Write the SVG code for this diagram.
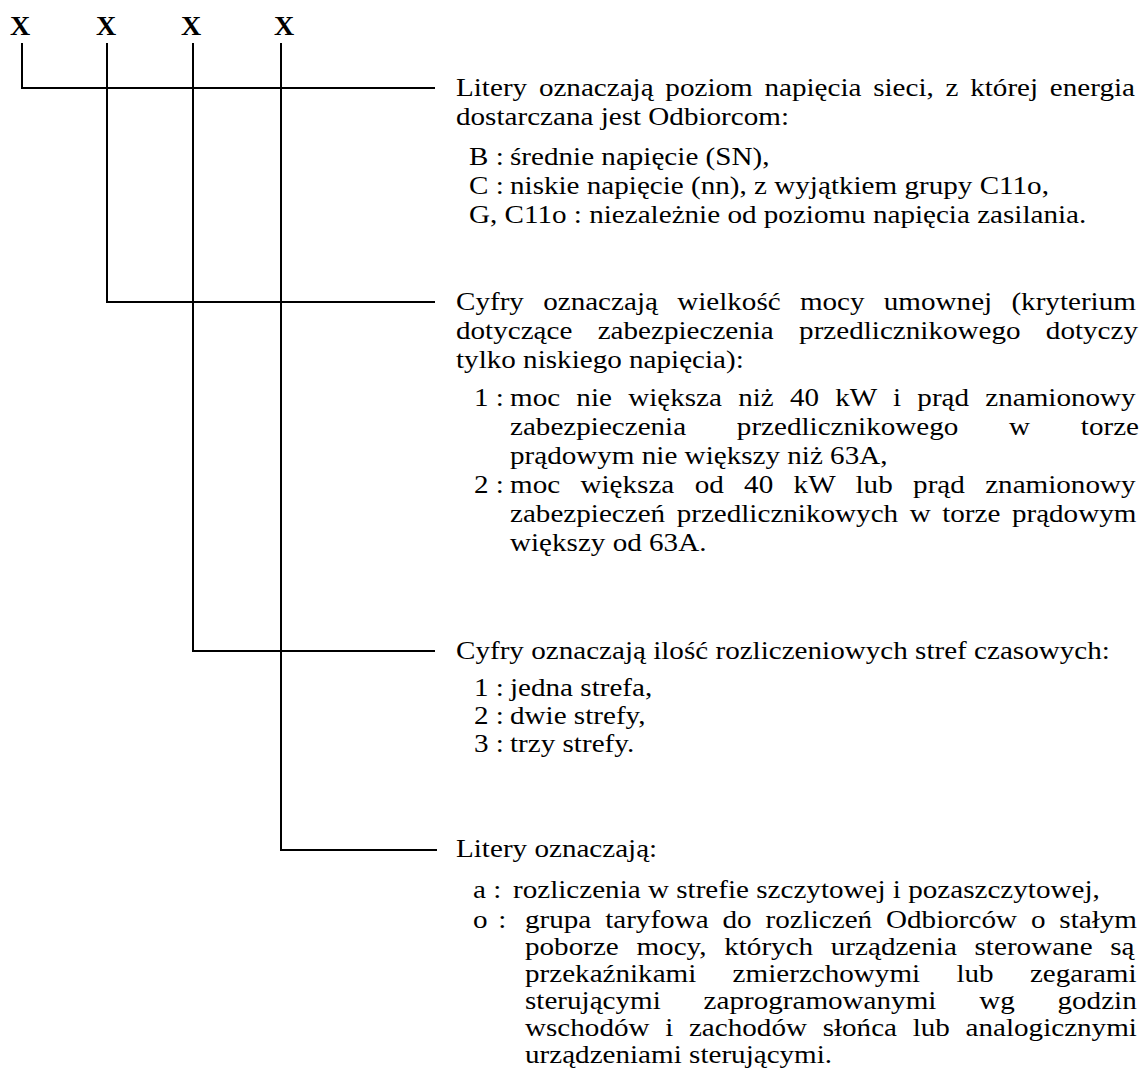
<svg xmlns="http://www.w3.org/2000/svg" width="1145" height="1070" viewBox="0 0 1145 1070">
<style>
.t{font-family:"Liberation Serif","Times New Roman",serif;font-size:26px;fill:#000}
.x{font-family:"Liberation Serif","Times New Roman",serif;font-size:28px;font-weight:bold;fill:#000;text-anchor:middle}
.c{stroke:#000;stroke-width:2;fill:none}
</style>
<rect width="1145" height="1070" fill="#fff"/>
<g id="connectors">
<path class="c" d="M22 43V88H435"/>
<path class="c" d="M107 43V302H435"/>
<path class="c" d="M193 43V651H435"/>
<path class="c" d="M281 43V850H437"/>
</g>
<g id="x1"><text class="x" x="20" y="35">X</text></g>
<g id="x2"><text class="x" x="106" y="35">X</text></g>
<g id="x3"><text class="x" x="191" y="35">X</text></g>
<g id="x4"><text class="x" x="284" y="35">X</text></g>
<g id="desc1">
<text class="t" transform="translate(456 96) scale(1.12 1)" word-spacing="4.0">Litery oznaczają poziom napięcia sieci, z której energia</text>
<text class="t" transform="translate(456 125) scale(1.12 1)">dostarczana jest Odbiorcom:</text>
<text class="t" transform="translate(469 165) scale(1.12 1)">B :</text>
<text class="t" transform="translate(510 165) scale(1.12 1)">średnie napięcie (SN),</text>
<text class="t" transform="translate(469 194) scale(1.12 1)">C :</text>
<text class="t" transform="translate(510 194) scale(1.12 1)">niskie napięcie (nn), z wyjątkiem grupy C11o,</text>
<text class="t" transform="translate(469 223) scale(1.12 1)">G, C11o : niezależnie od poziomu napięcia zasilania.</text>
</g>
<g id="desc2">
<text class="t" transform="translate(456 310) scale(1.12 1)" word-spacing="10.7">Cyfry oznaczają wielkość mocy umownej (kryterium</text>
<text class="t" transform="translate(456 339) scale(1.12 1)" word-spacing="16.1">dotyczące zabezpieczenia przedlicznikowego dotyczy</text>
<text class="t" transform="translate(456 368) scale(1.12 1)">tylko niskiego napięcia):</text>
<text class="t" transform="translate(474 406) scale(1.12 1)">1 :</text>
<text class="t" transform="translate(510 406) scale(1.12 1)" word-spacing="8.0">moc nie większa niż 40 kW i prąd znamionowy</text>
<text class="t" transform="translate(510 435) scale(1.12 1)" word-spacing="38.8">zabezpieczenia przedlicznikowego w torze</text>
<text class="t" transform="translate(510 464) scale(1.12 1)">prądowym nie większy niż 63A,</text>
<text class="t" transform="translate(474 493) scale(1.12 1)">2 :</text>
<text class="t" transform="translate(510 493) scale(1.12 1)" word-spacing="11.7">moc większa od 40 kW lub prąd znamionowy</text>
<text class="t" transform="translate(510 522) scale(1.12 1)" word-spacing="3.8">zabezpieczeń przedlicznikowych w torze prądowym</text>
<text class="t" transform="translate(510 551) scale(1.12 1)">większy od 63A.</text>
</g>
<g id="desc3">
<text class="t" transform="translate(456 659) scale(1.12 1)">Cyfry oznaczają ilość rozliczeniowych stref czasowych:</text>
<text class="t" transform="translate(474 696) scale(1.12 1)">1 :</text>
<text class="t" transform="translate(510 696) scale(1.12 1)">jedna strefa,</text>
<text class="t" transform="translate(474 724) scale(1.12 1)">2 :</text>
<text class="t" transform="translate(510 724) scale(1.12 1)">dwie strefy,</text>
<text class="t" transform="translate(474 752) scale(1.12 1)">3 :</text>
<text class="t" transform="translate(510 752) scale(1.12 1)">trzy strefy.</text>
</g>
<g id="desc4">
<text class="t" transform="translate(456 857) scale(1.12 1)">Litery oznaczają:</text>
<text class="t" transform="translate(473 898) scale(1.12 1)">a :</text>
<text class="t" transform="translate(513 898) scale(1.12 1)">rozliczenia w strefie szczytowej i pozaszczytowej,</text>
<text class="t" transform="translate(473 928) scale(1.12 1)" word-spacing="3">o :</text>
<text class="t" transform="translate(525 928) scale(1.12 1)" word-spacing="5.9">grupa taryfowa do rozliczeń Odbiorców o stałym</text>
<text class="t" transform="translate(525 955) scale(1.12 1)" word-spacing="9.3">poborze mocy, których urządzenia sterowane są</text>
<text class="t" transform="translate(525 982) scale(1.12 1)" word-spacing="25.9">przekaźnikami zmierzchowymi lub zegarami</text>
<text class="t" transform="translate(525 1009) scale(1.12 1)" word-spacing="31.7">sterującymi zaprogramowanymi wg godzin</text>
<text class="t" transform="translate(525 1036) scale(1.12 1)" word-spacing="7.5">wschodów i zachodów słońca lub analogicznymi</text>
<text class="t" transform="translate(525 1063) scale(1.12 1)">urządzeniami sterującymi.</text>
</g>
</svg>
